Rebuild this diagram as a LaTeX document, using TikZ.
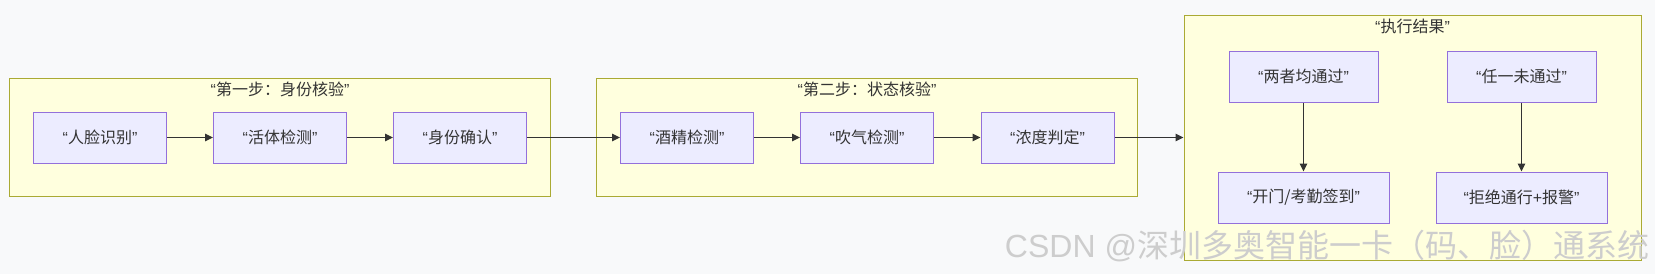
\documentclass[tikz,border=0pt]{standalone}
\usepackage{fontspec}
\setmainfont{Liberation Sans}
\newfontfamily\cjk{Noto Sans CJK SC}
\usetikzlibrary{arrows.meta}
\definecolor{bgc}{HTML}{F8F9FA}
\definecolor{clfill}{HTML}{FFFFDE}
\definecolor{cldraw}{HTML}{AAAA33}
\definecolor{ndfill}{HTML}{ECECFF}
\definecolor{nddraw}{HTML}{9370DB}
\definecolor{txt}{HTML}{333333}
\definecolor{wm}{HTML}{CDCDCD}
\newcommand{\qt}[1]{“{\cjk #1}”}
\tikzset{
  cluster/.style={draw=cldraw, fill=clfill, line width=1pt, inner sep=0pt},
  cltitle/.style={text=txt, font=\fontsize{16pt}{19pt}\selectfont, inner sep=0pt},
  proc/.style={draw=nddraw, fill=ndfill, line width=1pt, inner sep=0pt,
    text=txt, font=\fontsize{16pt}{19pt}\selectfont, minimum height=51pt},
  flow/.style={draw=txt, line width=1.2pt, -{Triangle[length=8pt,width=7.5pt]}},
}
\begin{document}
\begin{tikzpicture}[x=1pt,y=-1pt]
\fill[bgc] (0,0) rectangle (1655,274);
\useasboundingbox (0,0) rectangle (1655,274);
% clusters
\node[cluster, minimum width=540.5pt, minimum height=118pt] (c1) at (280,137) {};
\node[cluster, minimum width=540.5pt, minimum height=118pt] (c2) at (867,137) {};
\node[cluster, minimum width=457pt, minimum height=245pt] (c3) at (1412.5,137.5) {};
\node[cltitle] (t1) at (280,89) {\qt{第一步：身份核验}};
\node[cltitle] (t2) at (867,89) {\qt{第二步：状态核验}};
\node[cltitle] (t3) at (1412.5,26) {\qt{执行结果}};
% nodes
\node[proc, minimum width=133pt] (a1) at (100,137.5) {\qt{人脸识别}};
\node[proc, minimum width=133pt] (a2) at (280,137.5) {\qt{活体检测}};
\node[proc, minimum width=133pt] (a3) at (460,137.5) {\qt{身份确认}};
\node[proc, minimum width=133pt] (b1) at (687,137.5) {\qt{酒精检测}};
\node[proc, minimum width=133pt] (b2) at (867,137.5) {\qt{吹气检测}};
\node[proc, minimum width=133pt] (b3) at (1047.5,137.5) {\qt{浓度判定}};
\node[proc, minimum width=149pt] (r1) at (1303.5,76.5) {\qt{两者均通过}};
\node[proc, minimum width=149pt] (r2) at (1521.5,76.5) {\qt{任一未通过}};
\node[proc, minimum width=171pt] (s1) at (1303.5,197.5) {\qt{开门/考勤签到}};
\node[proc, minimum width=171pt] (s2) at (1521.5,197.5) {“{\cjk 拒绝通行}+{\cjk 报警}”};
% connectors
\draw[flow] (a1) -- (a2);
\draw[flow] (a2) -- (a3);
\draw[flow] (a3) -- (b1);
\draw[flow] (b1) -- (b2);
\draw[flow] (b2) -- (b3);
\draw[flow] (b3) -- (c3);
\draw[flow] (r1) -- (s1);
\draw[flow] (r2) -- (s2);
% watermark
\node[text=wm, inner sep=0pt, font=\fontsize{32pt}{32pt}\selectfont] (wmk) at (1327,246) {CSDN @{\cjk 深圳多奥智能一卡（码、脸）通系统}};
\end{tikzpicture}
\end{document}
